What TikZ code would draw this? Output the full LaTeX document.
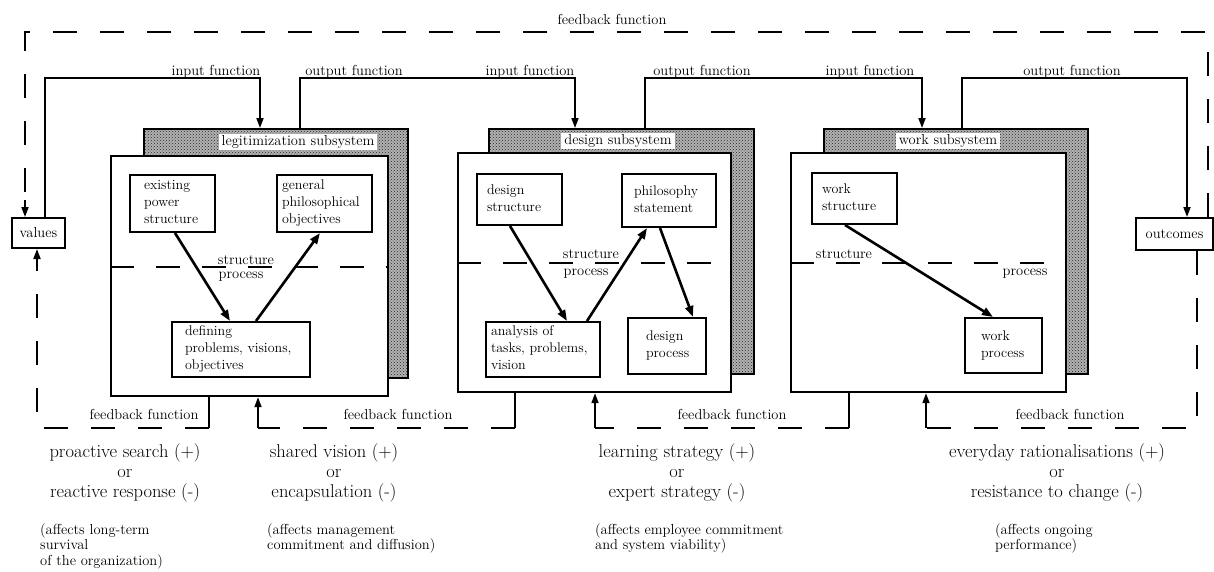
\documentclass[tikz,border=0pt]{standalone}
\usetikzlibrary{arrows.meta,patterns}
% type sizes
\newcommand\txbox{\fontsize{14}{17}\selectfont\hyphenpenalty=10000\exhyphenpenalty=10000}
\newcommand\txlbl{\fontsize{14.5}{17}\selectfont}
\newcommand\txmain{\fontsize{18.5}{20}\selectfont}
\newcommand\txnote{\fontsize{14.5}{15.5}\selectfont}
% framed text box given by its corners: name, x1, y1, x2, y2, left pad, lines
\newcommand\ibox[7]{%
  \pgfmathsetmacro\ibW{#4-#2}%
  \pgfmathsetmacro\ibH{#5-#3}%
  \pgfmathsetmacro\ibT{#4-#2-2*#6}%
  \node[tb, minimum width=\ibW pt, minimum height=\ibH pt, inner xsep=#6pt]
    (#1) at ({(#2+#4)/2},{(#3+#5)/2})
    {\makebox[\ibT pt][l]{\begin{tabular}{@{}l@{}}#7\end{tabular}}};}
\begin{document}
\begin{tikzpicture}[x=1pt,y=-1pt,
  tb/.style={draw, line width=2pt, fill=white, inner ysep=0pt, font=\txbox},
  back/.style={draw, line width=2pt, preaction={fill=black!30},
    pattern=crosshatch dots, pattern color=black!85,
    anchor=north west, inner sep=0pt},
  front/.style={draw, line width=2.2pt, fill=white, anchor=north west, inner sep=0pt},
  divider/.style={line width=1.8pt, dash pattern=on 24pt off 22pt},
  loopline/.style={line width=2.2pt, dash pattern=on 24pt off 23pt},
  link/.style={line width=1.8pt},
  flow/.style={line width=1.8pt, -{Triangle[length=10pt,width=7pt]}},
  diag/.style={line width=2.6pt, -{Triangle[length=11pt,width=8pt]}},
  lbl/.style={font=\txlbl, inner sep=0pt},
  tag/.style={font=\txlbl, inner xsep=3pt, inner ysep=1pt, fill=white},
  mainline/.style={font=\txmain, align=center, inner sep=0pt},
  note/.style={font=\txnote, align=left, anchor=north west, inner sep=0pt},
]
\useasboundingbox (0,0) rectangle (1214,571);
\fill[white] (0,0) rectangle (1214,571);

% ---------- legitimization subsystem ----------
\node[back, minimum width=264pt, minimum height=249pt] (legB) at (143,128) {};
\node[tag] (legT) at (298,142) {legitimization subsystem};
\node[front, minimum width=277pt, minimum height=240pt] (legF) at (110,155) {};
\draw[divider] (legF.west |- 0,267) -- (legF.east |- 0,267);
\node[lbl] (legS) at (246,260) {structure};
\node[lbl] (legP) at (241,277) {process};
\ibox{exist}{130}{175}{215}{232}{14}{existing\\power\\structure}
\ibox{gener}{277}{175}{372}{232}{5}{general\\philosophical\\objectives}
\ibox{defin}{172}{322}{310}{377}{13}{defining\\problems, visions,\\objectives}
\draw[diag] (exist.south -| 175,0) -- (defin.north -| 230,0);
\draw[diag] (defin.north -| 256,0) -- (gener.south -| 320,0);

% ---------- design subsystem ----------
\node[back, minimum width=265pt, minimum height=245pt] (desB) at (488,128) {};
\node[tag] (desT) at (618,141) {design subsystem};
\node[front, minimum width=273pt, minimum height=239pt] (desF) at (457,152) {};
\draw[divider] (desF.west |- 0,263) -- (desF.east |- 0,263);
\node[lbl] (desS) at (591,254) {structure};
\node[lbl] (desP) at (586,274) {process};
\ibox{dstru}{477}{174}{562}{225}{10}{design\\structure}
\ibox{philo}{622}{174}{716}{227}{12}{philosophy\\statement}
\ibox{analy}{486}{322}{600}{377}{5}{analysis of\\tasks, problems,\\vision}
\ibox{dproc}{628}{318}{706}{374}{18}{design\\process}
\draw[diag] (dstru.south -| 510,0) -- (analy.north -| 567,0);
\draw[diag] (analy.north -| 587,0) -- (philo.south -| 647,0);
\draw[diag] (philo.south -| 660,0) -- (dproc.north -| 693,0);

% ---------- work subsystem ----------
\node[back, minimum width=264pt, minimum height=245pt] (wrkB) at (823,128) {};
\node[tag] (wrkT) at (948,141) {work subsystem};
\node[front, minimum width=275pt, minimum height=239pt] (wrkF) at (790,152) {};
\draw[divider] (wrkF.west |- 0,263) -- (wrkF.east |- 0,263);
\node[lbl] (wrkS) at (844,254) {structure};
\node[lbl] (wrkP) at (1025,274) {process};
\ibox{wstru}{812}{173}{897}{224}{10}{work\\structure}
\ibox{wproc}{965}{318}{1042}{373}{16}{work\\process}
\draw[diag] (wstru.south -| 845,0) -- (wproc.north -| 993,0);

% ---------- environment ----------
\node[tb, font=\txlbl, minimum width=53pt, minimum height=30pt, inner xsep=2pt] (values) at (38.5,233) {values};
\node[tb, font=\txlbl, minimum width=77pt, minimum height=32pt, inner xsep=2pt] (outc) at (1174.5,234) {outcomes};

% ---------- input / output functions ----------
\draw[flow] (values.north -| 45,0) -- (45,78) -- (260,78) -- (260,0 |- legB.north);
\draw[flow] (300,0 |- legB.north) -- (300,78) -- (575,78) -- (575,0 |- desB.north);
\draw[flow] (645,0 |- desB.north) -- (645,78) -- (922,78) -- (922,0 |- wrkB.north);
\draw[flow] (962,0 |- wrkB.north) -- (962,78) -- (1187,78) -- (1187,0 |- outc.north);
\node[lbl, anchor=base] (in1) at (216,75) {input function};
\node[lbl, anchor=base] (out1) at (354,75) {output function};
\node[lbl, anchor=base] (in2) at (530,75) {input function};
\node[lbl, anchor=base] (out2) at (702,75) {output function};
\node[lbl, anchor=base] (in3) at (870,75) {input function};
\node[lbl, anchor=base] (out3) at (1072,75) {output function};

% ---------- outer feedback loop ----------
\coordinate (tl) at (25,200);
\draw[loopline] (outc.north -| 1208,0) -- (1208,32) -- (25,32) -- (tl);
\draw[flow] (tl) -- (values.north -| 25,0);
\node[lbl, anchor=base] (fbtop) at (612,24) {feedback function};

% ---------- feedback functions below ----------
\coordinate (bl) at (37,268);
\draw[link] (legF.south -| 209,0) -- (209,428);
\draw[loopline] (209,428) -- (37,428) -- (bl);
\draw[flow] (bl) -- (values.south -| 37,0);

\coordinate (b2) at (258,428);
\draw[link] (desF.south -| 515,0) -- (515,428);
\draw[loopline] (515,428) -- (b2);
\draw[flow] (b2) -- (legF.south -| 258,0);

\coordinate (b3) at (595,428);
\draw[link] (wrkF.south -| 849,0) -- (849,428);
\draw[loopline] (849,428) -- (b3);
\draw[flow] (b3) -- (desF.south -| 595,0);

\coordinate (b4) at (926,428);
\draw[loopline] (outc.south -| 1197,0) -- (1197,428) -- (b4);
\draw[flow] (b4) -- (wrkF.south -| 926,0);

\node[lbl, anchor=base] (fb1) at (144,419) {feedback function};
\node[lbl, anchor=base] (fb2) at (398,419) {feedback function};
\node[lbl, anchor=base] (fb3) at (732,419) {feedback function};
\node[lbl, anchor=base] (fb4) at (1070,419) {feedback function};

% ---------- outcomes of each loop ----------
\node[mainline] (m1) at (125,473) {proactive search (+)\\or\\reactive response (-)};
\node[mainline] (m2) at (334,473) {shared vision (+)\\or\\encapsulation (-)};
\node[mainline] (m3) at (677,473) {learning strategy (+)\\or\\expert strategy (-)};
\node[mainline] (m4) at (1057,473) {everyday rationalisations (+)\\or\\resistance to change (-)};

\node[note] (n1) at (40,523) {(affects long-term\\survival\\of the organization)};
\node[note] (n2) at (267,523) {(affects management\\commitment and diffusion)};
\node[note] (n3) at (595,523) {(affects employee commitment\\and system viability)};
\node[note] (n4) at (995,523) {(affects ongoing\\performance)};
\end{tikzpicture}
\end{document}
